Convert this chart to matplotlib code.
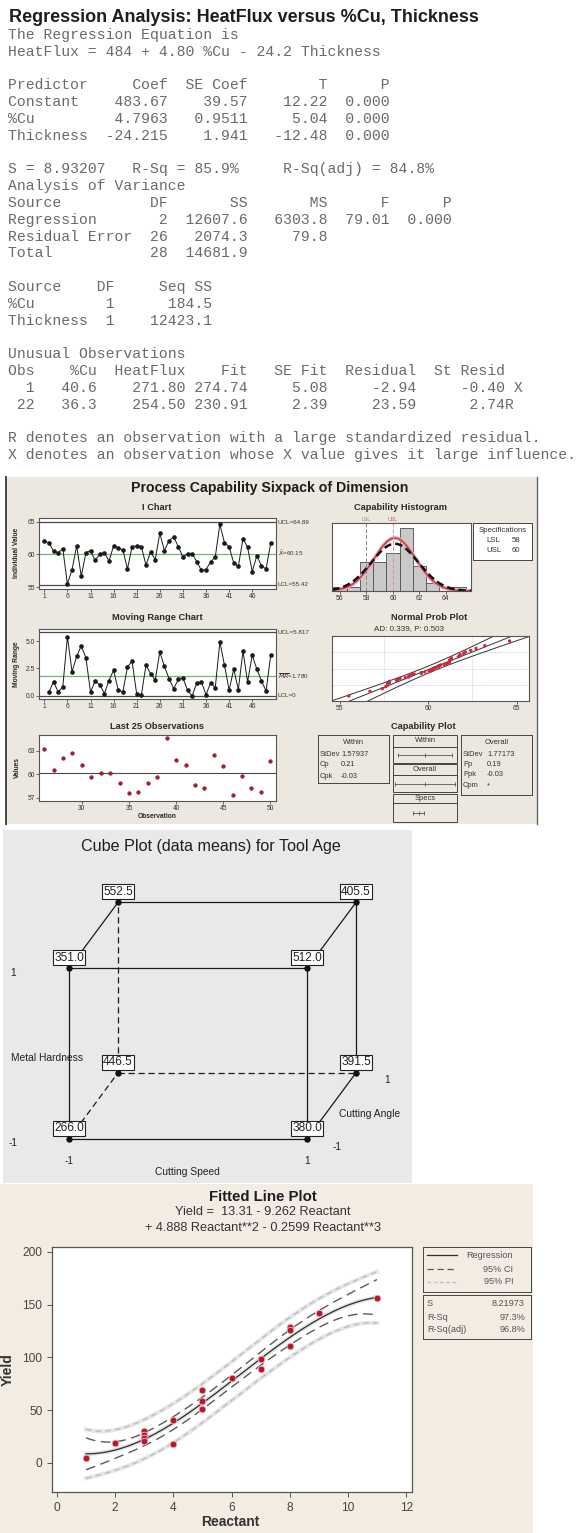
import statistics

import matplotlib

matplotlib.use("Agg")
import matplotlib.pyplot as plt
import numpy as np
from matplotlib.patches import Rectangle
from matplotlib.transforms import blended_transform_factory

plt.rcParams["font.family"] = ["Liberation Sans", "DejaVu Sans"]
plt.rcParams["mathtext.fontset"] = "dejavusans"

W, H = 582, 1533
MONO = ["Liberation Mono", "DejaVu Sans Mono"]

INK = "#1E1E1E"
SESSION_GREY = "#6A6A6A"
SIXPACK_BG = "#ECE8E0"
CUBE_BG = "#E9E9E9"
FIT_BG = "#F2ECE3"
RED = "#B8162E"
GREEN = "#72B872"
FRAME = "#555555"

# ---- session window: regression output ----
eq_text = "HeatFlux = 484 + 4.80 %Cu - 24.2 Thickness"
predictors = ["Constant", "%Cu", "Thickness"]
coefs = ["483.67", "4.7963", "-24.215"]
se_coefs = ["39.57", "0.9511", "1.941"]
t_values = ["12.22", "5.04", "-12.48"]
p_values = ["0.000", "0.000", "0.000"]
s_value, r_sq, r_sq_adj = "8.93207", "85.9%", "84.8%"
anova_sources = ["Regression", "Residual Error", "Total"]
anova_df = ["2", "26", "28"]
anova_ss = ["12607.6", "2074.3", "14681.9"]
anova_ms = ["6303.8", "79.8", ""]
anova_f = ["79.01", "", ""]
anova_p = ["0.000", "", ""]
seq_sources = ["%Cu", "Thickness"]
seq_df = ["1", "1"]
seq_ss = ["184.5", "12423.1"]
unusual_obs = ["1", "22"]
unusual_cu = ["40.6", "36.3"]
unusual_heatflux = ["271.80", "254.50"]
unusual_fit = ["274.74", "230.91"]
unusual_se_fit = ["5.08", "2.39"]
unusual_resid = ["-2.94", "23.59"]
unusual_st_resid = ["-0.40", "2.74"]
unusual_flags = [" X", "R"]

# ---- sixpack: 50 individual measurements of Dimension ----
obs_values = [62.0, 61.8, 60.5, 60.25, 60.9, 55.5, 57.7, 61.3, 56.7, 60.25,
              60.6, 59.1, 60.05, 60.3, 59.0, 61.3, 61.0, 60.7, 57.8, 61.2,
              61.3, 61.2, 58.4, 60.4, 59.2, 63.2, 60.6, 62.1, 62.7, 61.2,
              59.6, 60.15, 60.15, 58.9, 57.6, 57.7, 58.9, 59.6, 64.6, 61.8,
              61.2, 58.7, 58.2, 62.4, 61.1, 57.4, 59.8, 58.3, 57.8, 61.7]
mr_values = [0.37, 1.28, 0.37, 0.82, 5.4, 2.2, 3.6, 4.57, 3.48, 0.37,
             1.34, 1.04, 0.21, 1.4, 2.35, 0.52, 0.37, 2.65, 3.17, 0.15,
             0.06, 2.8, 2.04, 1.43, 4.0, 2.7, 1.58, 0.67, 1.5, 1.65,
             0.52, 0.0, 1.19, 1.28, 0.12, 1.19, 0.73, 4.94, 2.8, 0.52,
             2.44, 0.58, 4.1, 1.28, 3.72, 2.44, 1.4, 0.43, 3.69]
I_UCL, I_CL, I_LCL = 64.89, 60.15, 55.42
MR_UCL, MR_CL, MR_LCL = 5.817, 1.780, 0.0
hist_centers = [56, 57, 58, 59, 60, 61, 62, 63, 64, 65]
hist_counts = [1, 1, 7, 7, 9, 15, 6, 2, 0, 1]
LSL, USL = 58, 60
MEAN = 60.15
SD_WITHIN, SD_OVERALL = 1.57937, 1.77173
AD_TEXT = "AD: 0.339, P: 0.503"
within_stats = [("StDev", "1.57937"), ("Cp", "0.21"), ("Cpk", "-0.03")]
overall_stats = [("StDev", "1.77173"), ("Pp", "0.19"), ("Ppk", "-0.03"), ("Cpm", "*")]
prob_grid_pct = [10, 50, 90]

# ---- cube plot: data means for Tool Age ----
cube_speed = [-1, 1, -1, 1, -1, 1, -1, 1]
cube_angle = [-1, -1, -1, -1, 1, 1, 1, 1]
cube_hardness = [-1, -1, 1, 1, -1, -1, 1, 1]
cube_means = [266.0, 380.0, 351.0, 512.0, 446.5, 391.5, 552.5, 405.5]

# ---- fitted line plot ----
reactant = [1, 2, 3, 3, 3, 3, 4, 4, 5, 5, 5, 6, 7, 7, 8, 8, 8, 9, 11]
yield_vals = [4.7, 18.9, 30.0, 26.8, 23.6, 20.5, 40.3, 18.0, 68.7, 58.3,
              51.0, 80.3, 98.6, 88.8, 129.0, 126.0, 111.0, 141.7, 156.5]
fit_coefs = [13.31, -9.262, 4.888, -0.2599]  # constant, x, x^2, x^3
FIT_S, FIT_RSQ, FIT_RSQ_ADJ = "8.21973", "97.3%", "96.8%"
T_CRIT = 2.131

fig = plt.figure(figsize=(W / 100, H / 100), dpi=100)
fig.patch.set_facecolor("white")


def px_axes(x0, y0, x1, y1):
    return fig.add_axes([x0 / W, 1 - y1 / H, (x1 - x0) / W, (y1 - y0) / H])


def px_text(x, y, s, **kw):
    kw.setdefault("ha", "center")
    kw.setdefault("va", "center")
    return fig.text(x / W, 1 - y / H, s, **kw)


def px_panel(x0, y0, x1, y1, color):
    fig.add_artist(Rectangle((x0 / W, 1 - y1 / H), (x1 - x0) / W, (y1 - y0) / H,
                             transform=fig.transFigure, facecolor=color,
                             edgecolor="none", zorder=-5))


def style_small(ax):
    ax.set_facecolor("white")
    for sp in ax.spines.values():
        sp.set_color(FRAME)
        sp.set_linewidth(0.8)
    ax.tick_params(labelsize=4.8, length=2, width=0.5, pad=1, colors="#333333")


def box_axes(x0, y0, x1, y1):
    ax = px_axes(x0, y0, x1, y1)
    ax.set_xlim(x0, x1)
    ax.set_ylim(y1, y0)
    ax.set_xticks([])
    ax.set_yticks([])
    ax.patch.set_alpha(0)
    for sp in ax.spines.values():
        sp.set_color("#444444")
        sp.set_linewidth(0.7)
    return ax


# ================= session text =================
px_text(9, 17, "Regression Analysis: HeatFlux versus %Cu, Thickness", ha="left",
        fontsize=13, fontweight="bold", color=INK)

session = ["The Regression Equation is", eq_text, ""]
session.append(f"{'Predictor':<11}{'Coef':>7}{'SE Coef':>9}{'T':>9}{'P':>7}")
for row in zip(predictors, coefs, se_coefs, t_values, p_values):
    session.append(f"{row[0]:<11}{row[1]:>7}{row[2]:>9}{row[3]:>9}{row[4]:>7}")
session.append("")
session.append(f"S = {s_value}   R-Sq = {r_sq}     R-Sq(adj) = {r_sq_adj}")
session.append("Analysis of Variance")
session.append(f"{'Source':<15}{'DF':>3}{'SS':>9}{'MS':>9}{'F':>7}{'P':>7}")
for row in zip(anova_sources, anova_df, anova_ss, anova_ms, anova_f, anova_p):
    session.append(f"{row[0]:<15}{row[1]:>3}{row[2]:>9}{row[3]:>9}{row[4]:>7}{row[5]:>7}")
session.append("")
session.append(f"{'Source':<10}{'DF':>2}{'Seq SS':>11}")
for row in zip(seq_sources, seq_df, seq_ss):
    session.append(f"{row[0]:<10}{row[1]:>2}{row[2]:>11}")
session.append("")
session.append("Unusual Observations")
session.append(f"{'Obs':<3}{'%Cu':>7}{'HeatFlux':>10}{'Fit':>7}{'SE Fit':>9}{'Residual':>10}{'St Resid':>10}")
for row in zip(unusual_obs, unusual_cu, unusual_heatflux, unusual_fit,
               unusual_se_fit, unusual_resid, unusual_st_resid, unusual_flags):
    session.append(f"{row[0]:>3}{row[1]:>7}{row[2]:>10}{row[3]:>7}{row[4]:>9}{row[5]:>10}{row[6]:>10}{row[7]}")
session.append("")
session.append("R denotes an observation with a large standardized residual.")
session.append("X denotes an observation whose X value gives it large influence.")

for i, line in enumerate(session):
    if line:
        px_text(8, 35 + 16.8 * i, line, ha="left", family=MONO, fontsize=10.6, color=SESSION_GREY)

# ================= process capability sixpack =================
px_panel(6, 477, 537, 824, SIXPACK_BG)
fig.add_artist(plt.Line2D([6 / W, 6 / W], [1 - 477 / H, 1 - 824 / H], transform=fig.transFigure, color="#444444", lw=1.4))
fig.add_artist(plt.Line2D([537 / W, 537 / W], [1 - 477 / H, 1 - 824 / H], transform=fig.transFigure, color="#666666", lw=1.0))
px_text(270, 488, "Process Capability Sixpack of Dimension", fontsize=10.2, fontweight="bold", color=INK)

sub_title = dict(fontsize=6.7, fontweight="bold", color="#2A2A2A")
px_text(157, 508, "I Chart", **sub_title)
px_text(157, 618, "Moving Range Chart", **sub_title)
px_text(157, 727, "Last 25 Observations", **sub_title)
px_text(400, 508, "Capability Histogram", **sub_title)
px_text(429, 618, "Normal Prob Plot", **sub_title)
px_text(409, 629, AD_TEXT, fontsize=5.8, color="#333333")
px_text(423, 727, "Capability Plot", **sub_title)

side_label = dict(fontsize=4.8, fontweight="bold", color="#2A2A2A", rotation=90)
px_text(17, 553, "Individual Value", **side_label)
px_text(17, 664, "Moving Range", **side_label)
px_text(17, 768, "Values", **side_label)
px_text(157, 817, "Observation", fontsize=4.8, fontweight="bold", color="#2A2A2A")

idx = np.arange(1, len(obs_values) + 1)
cl_font = dict(fontsize=4.5, va="center", color="#333333")

# I chart
ax = px_axes(39, 518, 276, 589)
style_small(ax)
ax.axhline(I_UCL, color="#4A4A4A", lw=0.9)
ax.axhline(I_LCL, color="#4A4A4A", lw=0.9)
ax.axhline(I_CL, color=GREEN, lw=0.9)
ax.plot(idx, obs_values, color="#1A1A1A", lw=0.7, marker="o", ms=2.3)
ax.set_xlim(-0.15, 51.15)
ax.set_ylim(54.75, 65.55)
ax.set_xticks(range(1, 50, 5))
ax.set_yticks([55, 60, 65])
tr = blended_transform_factory(ax.transAxes, ax.transData)
ax.text(1.008, I_UCL, f"UCL={I_UCL:.2f}", transform=tr, **cl_font)
ax.text(1.008, I_CL, f"$\\bar{{X}}$={I_CL:.2f}", transform=tr, **cl_font)
ax.text(1.008, I_LCL, f"LCL={I_LCL:.2f}", transform=tr, **cl_font)

# moving range chart
ax = px_axes(39, 629, 276, 699)
style_small(ax)
ax.axhline(MR_UCL, color="#4A4A4A", lw=0.9)
ax.axhline(MR_LCL, color="#4A4A4A", lw=0.9)
ax.axhline(MR_CL, color=GREEN, lw=0.9)
ax.plot(idx[1:], mr_values, color="#1A1A1A", lw=0.7, marker="o", ms=2.3)
ax.set_xlim(-0.15, 51.15)
ax.set_ylim(-0.28, 6.1)
ax.set_xticks(range(1, 50, 5))
ax.set_yticks([0, 2.5, 5.0])
ax.set_yticklabels(["0.0", "2.5", "5.0"])
tr = blended_transform_factory(ax.transAxes, ax.transData)
ax.text(1.008, MR_UCL, f"UCL={MR_UCL:.3f}", transform=tr, **cl_font)
ax.text(1.008, MR_CL, f"$\\overline{{MR}}$={MR_CL:.3f}", transform=tr, **cl_font)
ax.text(1.008, MR_LCL, "LCL=0", transform=tr, **cl_font)

# last 25 observations
ax = px_axes(39, 735, 276, 801)
style_small(ax)
ax.axhline(I_CL, color="#4A4A4A", lw=0.8)
ax.scatter(idx[-25:], obs_values[-25:], s=7, color=RED, edgecolor="#5A0A14", linewidth=0.3, zorder=3)
ax.set_xlim(25.45, 50.6)
ax.set_ylim(56.6, 65.0)
ax.set_xticks(range(30, 51, 5))
ax.set_yticks([57, 60, 63])

# capability histogram
ax = px_axes(332, 523, 471, 591)
style_small(ax)
ax.bar(hist_centers, hist_counts, width=1.0, color="#C9C9C9", edgecolor="#4D4D4D", linewidth=0.6)
xs = np.linspace(55.4, 65.9, 300)
n_obs = len(obs_values)
curve_within = n_obs * np.exp(-0.5 * ((xs - MEAN) / SD_WITHIN) ** 2) / (SD_WITHIN * np.sqrt(2 * np.pi))
curve_overall = n_obs * np.exp(-0.5 * ((xs - MEAN) / SD_OVERALL) ** 2) / (SD_OVERALL * np.sqrt(2 * np.pi))
ax.plot(xs, curve_within, color="#EBA3AA", lw=2.6, solid_capstyle="round")
ax.plot(xs, curve_within, color="#C8283C", lw=0.9)
ax.plot(xs, curve_overall, color="#111111", lw=1.8, ls=(0, (3, 1.6)))
ax.axvline(LSL, color="#8A8A8A", lw=0.7, ls=(0, (4, 2)))
ax.axvline(USL, color="#E58C97", lw=0.7, ls=(0, (4, 2)))
top_tr = blended_transform_factory(ax.transData, ax.transAxes)
ax.text(LSL, 1.01, "LSL", transform=top_tr, fontsize=3.8, color="#8A8A8A", ha="center", va="bottom")
ax.text(USL, 1.01, "USL", transform=top_tr, fontsize=3.8, color="#D0566A", ha="center", va="bottom")
ax.set_xlim(55.4, 65.9)
ax.set_ylim(0, 16.2)
ax.set_xticks(range(56, 65, 2))
ax.set_yticks([])

# specifications box
spec_font = dict(fontsize=5.6, va="center", color="#333333")
ax = box_axes(473, 523, 532, 560)
ax.patch.set_facecolor("white")
ax.patch.set_alpha(1)
ax.text(502.5, 530.5, "Specifications", ha="center", **spec_font)
ax.text(486, 541, "LSL", **spec_font)
ax.text(512, 541, f"{LSL}", **spec_font)
ax.text(486, 551, "USL", **spec_font)
ax.text(512, 551, f"{USL}", **spec_font)

# normal probability plot
ax = px_axes(332, 636, 529, 701)
style_small(ax)
sorted_vals = np.sort(obs_values)
probs = (np.arange(1, n_obs + 1) - 0.3) / (n_obs + 0.4)
z_pts = np.array([statistics.NormalDist().inv_cdf(p) for p in probs])
zz = np.linspace(-2.6, 2.6, 120)
line_x = MEAN + SD_OVERALL * zz
band = 1.96 * SD_OVERALL * np.sqrt(1 / n_obs + zz ** 2 / (2 * (n_obs - 1)))
for zg in [statistics.NormalDist().inv_cdf(p / 100) for p in prob_grid_pct]:
    ax.axhline(zg, color="#D0D0D0", lw=0.5, ls=(0, (2, 1)))
for xg in [57.5, 62.5]:
    ax.axvline(xg, color="#D0D0D0", lw=0.5, ls=(0, (2, 1)))
ax.plot(line_x, zz, color="#333333", lw=0.7)
ax.plot(line_x - band, zz, color="#333333", lw=0.7)
ax.plot(line_x + band, zz, color="#333333", lw=0.7)
ax.scatter(sorted_vals, z_pts, s=6, color="#D02840", edgecolor="none", zorder=3)
ax.set_xlim(54.55, 65.7)
ax.set_ylim(-2.6, 2.6)
ax.set_xticks([55, 60, 65])
ax.set_yticks([])

# capability plot: within stats box
stat_font = dict(fontsize=5.4, va="center", color="#333333")
ax = box_axes(318, 735, 389, 783)
ax.text(353.5, 742, "Within", ha="center", **stat_font)
for j, (lab, val) in enumerate(within_stats):
    ax.text(320, 754 + 11 * j, lab, **stat_font)
    ax.text(341, 754 + 11 * j, val, **stat_font)

# capability plot: overall stats box
ax = box_axes(461, 735, 532, 795)
ax.text(496.5, 742, "Overall", ha="center", **stat_font)
for j, (lab, val) in enumerate(overall_stats):
    ax.text(463, 754 + 10.5 * j, lab, **stat_font)
    ax.text(487, 754 + 10.5 * j, val, **stat_font)

# capability plot: intervals column
ax = px_axes(393, 735, 457, 822)
ax.set_xlim(MEAN - 5.7, MEAN + 5.7)
ax.set_ylim(87, 0)
ax.axis("off")
cap_rows = [(0, 12, "Within"), (12, 28, None), (29, 40, "Overall"), (40, 57, None),
            (59, 68, "Specs"), (68, 87, None)]
for y0, y1, label in cap_rows:
    ax.add_patch(Rectangle((MEAN - 5.7, y0), 11.4, y1 - y0, fill=False,
                           edgecolor="#444444", lw=0.7, clip_on=False))
    if label:
        ax.text(MEAN, (y0 + y1) / 2, label, ha="center", **stat_font)
intervals = [(MEAN - 3 * SD_WITHIN, MEAN, MEAN + 3 * SD_WITHIN, 20),
             (MEAN - 3 * SD_OVERALL, MEAN, MEAN + 3 * SD_OVERALL, 48.5),
             (LSL, (LSL + USL) / 2, USL, 77.5)]
for lo, mid, hi, yrow in intervals:
    ax.plot([lo, hi], [yrow, yrow], color="#555555", lw=0.6)
    ax.plot([lo, mid, hi], [yrow] * 3, ls="none", marker="|", ms=3, mew=0.6, color="#555555")

# ================= cube plot =================
px_panel(3, 830, 412, 1183, CUBE_BG)
px_text(211, 847, "Cube Plot (data means) for Tool Age", fontsize=11.6, color=INK)

DEPTH_X, DEPTH_Y = 0.412, 0.776


def project(s, a, h):
    return s + DEPTH_X * (a + 1) / 2, h + DEPTH_Y * (a + 1) / 2


ax = px_axes(3, 830, 412, 1183)
ax.set_xlim(-1.555, 1.882)
ax.set_ylim(-1.518, 2.624)
ax.axis("off")
corners = list(zip(cube_speed, cube_angle, cube_hardness))
for i in range(len(corners)):
    for j in range(i + 1, len(corners)):
        diff = sum(c1 != c2 for c1, c2 in zip(corners[i], corners[j]))
        if diff != 1:
            continue
        hidden = (-1, 1, -1) in (corners[i], corners[j])
        p1, p2 = project(*corners[i]), project(*corners[j])
        ax.plot([p1[0], p2[0]], [p1[1], p2[1]], color="#1A1A1A", lw=0.9,
                ls=(0, (5, 3)) if hidden else "-")
for (s, a, h), m in zip(corners, cube_means):
    x, y = project(s, a, h)
    ax.plot(x, y, "o", color="#111111", ms=3.6, zorder=4)
    ax.annotate(f"{m:.1f}", (x, y), xytext=(0, 7.6), textcoords="offset points",
                ha="center", va="center", fontsize=8.6, color="#222222", zorder=5,
                bbox=dict(boxstyle="square,pad=0.12", fc="white", ec="#222222", lw=0.8))

cube_lab = dict(fontsize=7.4, color="#222222")
px_text(13, 973, "1", **cube_lab)
px_text(13, 1143, "-1", **cube_lab)
px_text(11, 1058, "Metal Hardness", ha="left", **cube_lab)
px_text(69, 1161, "-1", **cube_lab)
px_text(307, 1161, "1", **cube_lab)
px_text(187, 1172, "Cutting Speed", **cube_lab)
px_text(387, 1080, "1", **cube_lab)
px_text(337, 1147, "-1", **cube_lab)
px_text(370, 1114, "Cutting Angle", **cube_lab)

# ================= fitted line plot =================
px_panel(0, 1184, 533, 1533, FIT_BG)
px_text(263, 1197, "Fitted Line Plot", fontsize=10.8, fontweight="bold", color=INK)
px_text(263, 1212, f"Yield =  {fit_coefs[0]:.2f} - {abs(fit_coefs[1]):.3f} Reactant",
        fontsize=9.2, color="#333333")
px_text(263, 1228, f"+ {fit_coefs[2]:.3f} Reactant**2 - {abs(fit_coefs[3]):.4f} Reactant**3",
        fontsize=9.2, color="#333333")

ax = px_axes(52, 1247, 412, 1492)
ax.set_facecolor("white")
for sp in ax.spines.values():
    sp.set_color(FRAME)
    sp.set_linewidth(0.9)
ax.tick_params(labelsize=8.6, length=3.5, width=0.7, colors="#555555", labelcolor="#444444")

x_arr = np.asarray(reactant, dtype=float)
design = np.vander(x_arr, 4, increasing=True)
xtx_inv = np.linalg.inv(design.T @ design)
xs = np.linspace(x_arr.min(), x_arr.max(), 200)
grid = np.vander(xs, 4, increasing=True)
lever = np.einsum("ij,jk,ik->i", grid, xtx_inv, grid)
fit = grid @ np.asarray(fit_coefs)
s_fit = float(FIT_S)
ci = T_CRIT * s_fit * np.sqrt(lever)
pi = T_CRIT * s_fit * np.sqrt(1 + lever)

for sign in (-1, 1):
    ax.plot(xs, fit + sign * pi, color="#E6E6E6", lw=3.0)
    ax.plot(xs, fit + sign * pi, color="#BDBDBD", lw=1.0, ls=(0, (4, 3)))
    ax.plot(xs, fit + sign * ci, color="#5A5A5A", lw=1.0, ls=(0, (7, 4)))
ax.plot(xs, fit, color="#E2E2E2", lw=3.0)
ax.plot(xs, fit, color="#2E2E2E", lw=0.9)
ax.plot(reactant, yield_vals, "o", color=RED, ms=4.8, mec="#F1B5BE", mew=0.6, zorder=4)
ax.set_xlim(-0.17, 12.2)
ax.set_ylim(-27.5, 204.7)
ax.set_xticks(range(0, 13, 2))
ax.set_yticks(range(0, 201, 50))
px_text(8, 1370, "Yield", rotation=90, fontsize=10, fontweight="bold", color="#333333")
px_text(230, 1522, "Reactant", fontsize=10, fontweight="bold", color="#333333")

# legend boxes
leg_font = dict(fontsize=6.6, va="center", color="#555555")
ax = box_axes(423, 1247, 531, 1292)
ax.plot([427, 457], [1255, 1255], color="#2E2E2E", lw=0.9)
ax.plot([427, 457], [1269, 1269], color="#5A5A5A", lw=0.9, ls=(0, (5, 3)))
ax.plot([427, 457], [1282, 1282], color="#BDBDBD", lw=0.9, ls=(0, (3, 2)))
ax.text(513, 1255, "Regression", ha="right", **leg_font)
ax.text(513, 1269, "95% CI", ha="right", **leg_font)
ax.text(513, 1282, "95% PI", ha="right", **leg_font)

ax = box_axes(423, 1295, 531, 1339)
for j, (lab, val) in enumerate([("S", FIT_S), ("R-Sq", FIT_RSQ), ("R-Sq(adj)", FIT_RSQ_ADJ)]):
    ax.text(427, 1304 + 13 * j, lab, ha="left", **leg_font)
    ax.text(525, 1304 + 13 * j, val, ha="right", **leg_font)

fig.savefig("out.png", dpi=100, facecolor="white")
plt.close(fig)
